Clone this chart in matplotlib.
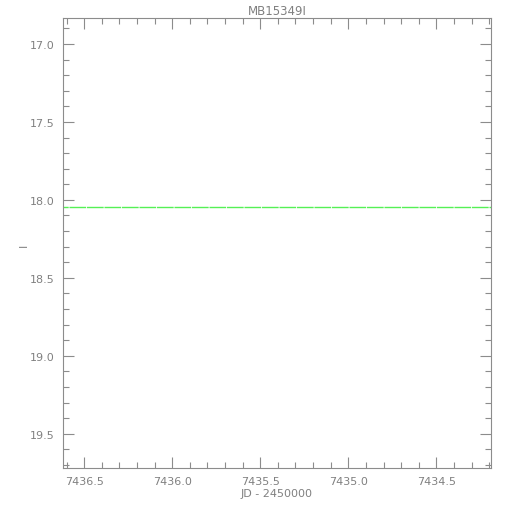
import matplotlib
matplotlib.use("Agg")
import matplotlib.pyplot as plt
from matplotlib.ticker import MultipleLocator, FormatStrFormatter

title = "MB15349I"
xlabel = "JD - 2450000"
ylabel = "I"
line_x = [7437.0, 7434.0]
line_y = [18.047, 18.047]
xlim = (7436.62, 7434.19)
ylim = (19.72, 16.833)

gray = "#8c8c8c"
plt.rcParams['font.family'] = ['DejaVu Sans']

fig = plt.figure(figsize=(5.1, 5.1), dpi=100)
ax = fig.add_axes([63/510, 41/510, 428/510, 450/510])
ax.plot(line_x, line_y, color="#55f055", lw=1.0, dashes=(12, 0.6))
ax.set_xlim(*xlim)
ax.set_ylim(*ylim)

ax.xaxis.set_major_locator(MultipleLocator(0.5))
ax.xaxis.set_minor_locator(MultipleLocator(0.1))
ax.yaxis.set_major_locator(MultipleLocator(0.5))
ax.yaxis.set_minor_locator(MultipleLocator(0.1))
ax.xaxis.set_major_formatter(FormatStrFormatter('%.1f'))
ax.yaxis.set_major_formatter(FormatStrFormatter('%.1f'))

for s in ax.spines.values():
    s.set_color(gray)
    s.set_linewidth(0.8)
ax.tick_params(which='both', direction='in', top=True, right=True, color=gray,
               labelcolor="#808080", labelsize=8, width=0.8)
ax.tick_params(which='major', length=8, pad=6)
ax.tick_params(which='minor', length=4)

ax.set_title(title, fontsize=8.5, color="#808080", pad=3)
ax.set_xlabel(xlabel, fontsize=8, color="#808080", labelpad=1)
fig.text(24/510, 1 - 245/510, ylabel, fontsize=8, color="#808080",
         rotation=90, ha='center', va='center')

fig.savefig("out.png", dpi=100, facecolor="white")
